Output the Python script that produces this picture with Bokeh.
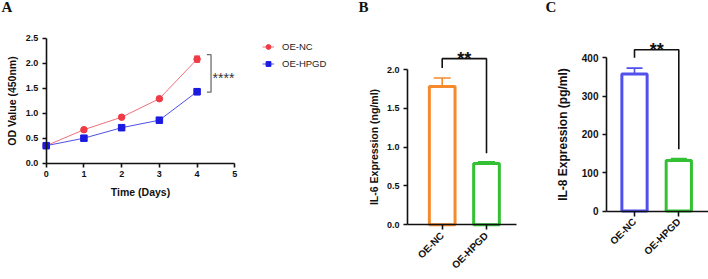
from math import pi
from bokeh.plotting import figure
from bokeh.models import (ColumnDataSource, Whisker, TeeHead, Legend, LegendItem, Label,
                          FixedTicker, NumeralTickFormatter, Range1d, LinearAxis)
from bokeh.embed import file_html
from bokeh.resources import INLINE

# ---------------- data ----------------
days = [0, 1, 2, 3, 4]
nc_od = [0.35, 0.67, 0.92, 1.29, 2.08]
nc_err = [0.02, 0.02, 0.02, 0.02, 0.06]
hpgd_od = [0.35, 0.50, 0.71, 0.86, 1.43]
hpgd_err = [0.02, 0.02, 0.02, 0.03, 0.06]

groups = ["OE-NC", "OE-HPGD"]
il6 = [1.78, 0.79]
il6_err = [0.11, 0.02]
il8 = [358, 132]
il8_err = [15, 5]

x_ticks_A = [0, 1, 2, 3, 4, 5]
y_ticks_A = [0, 0.5, 1.0, 1.5, 2.0, 2.5]
y_ticks_B = [0, 0.5, 1.0, 1.5, 2.0]
y_ticks_C = [0, 100, 200, 300, 400]
xpos = [1, 2]

FONT = "Liberation Sans"
RED_M, RED_L = "#EE3B45", "#F0707A"
BLUE_M, BLUE_L = "#1A1AE0", "#5050E6"
ORANGE = "#F48A2C"
GREEN = "#33C133"
BLUE_C = "#5050EE"
INK = "#111111"

W, H = 708, 279


def xrange_from(px0, v0, px1, v1):
    s = (px1 - px0) / (v1 - v0)
    return Range1d(v0 - px0 / s, v0 + (W - px0) / s)


def yrange_from(py0, v0, py1, v1):
    # py measured from the top of the canvas
    s = (py0 - py1) / (v1 - v0)
    return Range1d(v0 - (H - py0) / s, v0 + py0 / s)


p = figure(width=W, height=H, x_range=Range1d(0, W), y_range=Range1d(0, H),
           output_backend="svg", toolbar_location=None, title=None,
           x_axis_location=None, y_axis_location=None, min_border=0)
p.xgrid.visible = False
p.ygrid.visible = False
p.outline_line_color = None

# panel layouts (pixel anchors of the three plot areas)
p.extra_x_ranges = {"xA": xrange_from(45.7, 0, 234.3, 5),
                    "xB": xrange_from(441.7, 1, 486.0, 2),
                    "xC": xrange_from(634.0, 1, 678.3, 2)}
p.extra_y_ranges = {"yA": yrange_from(162.7, 0, 37.7, 2.5),
                    "yB": yrange_from(224.3, 0, 69.0, 2.0),
                    "yC": yrange_from(210.5, 0, 57.3, 400)}


def add_axis(side, xr, yr, loc, bounds, ticks, label, tick_size, label_size,
             standoff, fmt=None, overrides=None, orient=None, tick_out=4):
    ax = LinearAxis(x_range_name=xr, y_range_name=yr, fixed_location=loc, bounds=bounds,
                    ticker=FixedTicker(ticks=ticks), axis_label=label)
    if fmt:
        ax.formatter = NumeralTickFormatter(format=fmt)
    if overrides:
        ax.major_label_overrides = overrides
    if orient is not None:
        ax.major_label_orientation = orient
    ax.axis_line_width = 1.6
    ax.axis_line_color = INK
    ax.major_tick_line_width = 1.6
    ax.major_tick_line_color = INK
    ax.major_tick_out = tick_out
    ax.major_tick_in = 0
    ax.minor_tick_line_color = None
    ax.major_label_text_font = FONT
    ax.major_label_text_font_style = "bold"
    ax.major_label_text_font_size = tick_size
    ax.major_label_text_color = INK
    ax.major_label_standoff = 4
    ax.axis_label_text_font = FONT
    ax.axis_label_text_font_style = "bold"
    ax.axis_label_text_font_size = label_size
    ax.axis_label_text_color = INK
    ax.axis_label_standoff = standoff
    p.add_layout(ax, side)
    return ax


def title(text, x, y):
    p.add_layout(Label(x=x, y=y, x_units="screen", y_units="screen", text=text,
                       text_font="Liberation Serif", text_font_style="bold",
                       text_font_size="15px", text_color=INK))


# ---------------- panel A ----------------
add_axis("below", "xA", "yA", 0, (0, 5), x_ticks_A, "Time (Days)", "9px", "10.5px", 5)
add_axis("left", "xA", "yA", 0, (0, 2.5), y_ticks_A, "OD Value (450nm)", "9px", "10.5px", 5,
         fmt="0.0")
rA = dict(x_range_name="xA", y_range_name="yA")
l_nc = p.line(days, nc_od, line_color=RED_L, line_width=1, **rA)
l_hp = p.line(days, hpgd_od, line_color=BLUE_L, line_width=1, **rA)
for ys, es, col in [(nc_od, nc_err, RED_M), (hpgd_od, hpgd_err, BLUE_M)]:
    src = ColumnDataSource(dict(x=days, lo=[a - b for a, b in zip(ys, es)],
                                hi=[a + b for a, b in zip(ys, es)]))
    p.add_layout(Whisker(base="x", lower="lo", upper="hi", source=src, line_color=col,
                         line_width=1.2, **rA,
                         upper_head=TeeHead(size=6, line_color=col, line_width=1.2),
                         lower_head=TeeHead(size=6, line_color=col, line_width=1.2)))
s_nc = p.scatter(days, nc_od, marker="circle", size=6.5, fill_color=RED_M, line_color=RED_M, **rA)
s_hp = p.scatter(days, hpgd_od, marker="square", size=6.5, fill_color=BLUE_M,
                 line_color=BLUE_M, **rA)

bx = days[-1]
b_top = nc_od[-1] + nc_err[-1] + 0.03
b_bot = hpgd_od[-1] - 0.01
p.line([bx + 0.26, bx + 0.37, bx + 0.37, bx + 0.26], [b_top, b_top, b_bot, b_bot],
       line_color="#6E6E6E", line_width=1.3, **rA)
p.add_layout(Label(x=bx + 0.41, y=(b_top + b_bot) / 2 - 0.10, text="****", **rA,
                   text_font=FONT, text_font_size="14px", text_color="#333333",
                   text_baseline="alphabetic"))

legend = Legend(items=[LegendItem(label=groups[0], renderers=[l_nc, s_nc]),
                       LegendItem(label=groups[1], renderers=[l_hp, s_hp])],
                location=(262, 207), padding=0, margin=0, spacing=0,
                glyph_width=12, glyph_height=17, label_height=17, label_standoff=8,
                border_line_color=None, background_fill_alpha=0,
                label_text_font=FONT, label_text_font_size="9.5px", label_text_color="#222222")
p.add_layout(legend)
title("A", 1, 265)

# ---------------- panel B ----------------
add_axis("below", "xB", "yB", 0, (0.217, 2.677), xpos, None, "10px", "10.5px", 5,
         overrides={1: groups[0], 2: groups[1]}, orient=pi / 4, tick_out=5)
add_axis("left", "xB", "yB", 0.217, (0, 2.0), y_ticks_B, "IL-6 Expression (ng/ml)",
         "9px", "10.5px", 4, fmt="0.0")
rB = dict(x_range_name="xB", y_range_name="yB")
srcB = ColumnDataSource(dict(x=xpos, top=il6, color=[ORANGE, GREEN]))
p.vbar(x="x", top="top", width=0.58, source=srcB, fill_color="white",
       line_color="color", line_width=3, **rB)
for xv, v, e, col in zip(xpos, il6, il6_err, [ORANGE, GREEN]):
    s = ColumnDataSource(dict(x=[xv], lo=[v], hi=[v + e]))
    p.add_layout(Whisker(base="x", lower="lo", upper="hi", source=s, line_color=col,
                         line_width=1.6, lower_head=None, **rB,
                         upper_head=TeeHead(size=17, line_color=col, line_width=1.6)))
bt = il6[0] + il6_err[0] + 0.25
p.line([1, 1, 2, 2], [il6[0] + il6_err[0] + 0.13, bt, bt, il6[1] + il6_err[1] + 0.11],
       line_color=INK, line_width=1.6, **rB)
p.add_layout(Label(x=1.5, y=bt - 0.01, text="**", text_font=FONT, text_font_style="bold",
                   text_font_size="18px", text_align="center", text_baseline="alphabetic",
                   text_color=INK, **rB))
title("B", 358, 265)

# ---------------- panel C ----------------
add_axis("below", "xC", "yC", 0, (0.368, 2.67), xpos, None, "10px", "12px", 5,
         overrides={1: groups[0], 2: groups[1]}, orient=pi / 4, tick_out=5)
add_axis("left", "xC", "yC", 0.368, (0, 400), y_ticks_C, "IL-8 Expression (pg/ml)",
         "10px", "12px", 9)
rC = dict(x_range_name="xC", y_range_name="yC")
srcC = ColumnDataSource(dict(x=xpos, top=il8, color=[BLUE_C, GREEN]))
p.vbar(x="x", top="top", width=0.57, source=srcC, fill_color="white",
       line_color="color", line_width=3, **rC)
for xv, v, e, col in zip(xpos, il8, il8_err, [BLUE_C, GREEN]):
    s = ColumnDataSource(dict(x=[xv], lo=[v], hi=[v + e]))
    p.add_layout(Whisker(base="x", lower="lo", upper="hi", source=s, line_color=col,
                         line_width=1.6, lower_head=None, **rC,
                         upper_head=TeeHead(size=16, line_color=col, line_width=1.6)))
ct = il8[0] + il8_err[0] + 48
p.line([1, 1, 2, 2], [il8[0] + il8_err[0] + 27, ct, ct, il8[1] + il8_err[1] + 24],
       line_color=INK, line_width=1.6, **rC)
p.add_layout(Label(x=1.5, y=ct - 1, text="**", text_font=FONT, text_font_style="bold",
                   text_font_size="18px", text_align="center", text_baseline="alphabetic",
                   text_color=INK, **rC))
title("C", 545, 265)

open("out.html", "w").write(file_html(p, INLINE))
